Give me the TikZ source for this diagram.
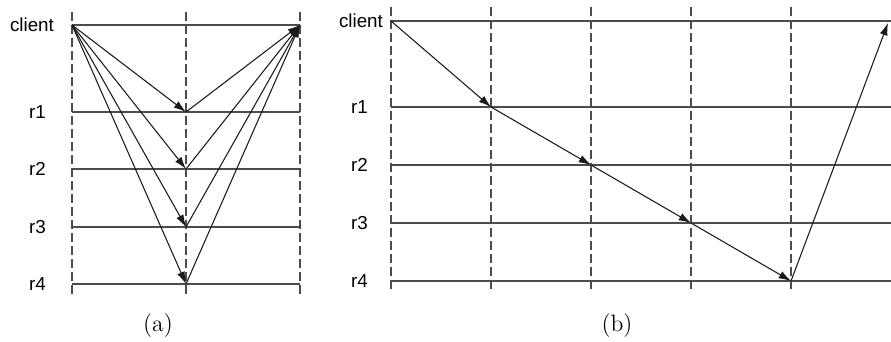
\documentclass[tikz,border=0pt]{standalone}
\usepackage{fontspec}
\newfontfamily\labelfont{Liberation Sans}
\usetikzlibrary{arrows.meta}

\begin{document}
\begin{tikzpicture}[
    x=0.02cm, y=-0.02cm,
    proc/.style={font=\labelfont\fontsize{10.7}{12}\selectfont, anchor=east, inner sep=1pt},
    sublabel/.style={font=\fontsize{13.5}{15}\selectfont},
    axis/.style={line width=0.9pt, black!70},
    tick/.style={line width=0.9pt, black!70, dash pattern=on 5pt off 2.4pt},
    msg/.style={-{Latex[length=7pt,width=4.5pt]}, line width=0.6pt, black!90}
  ]
  \useasboundingbox (0,0) rectangle (891,341);

  % (a) requests sent in parallel
  \foreach \x in {72,186,300} \draw[tick] (\x,12) -- (\x,295);
  \node[proc] (a-client) at (56,25) {client};
  \foreach \name/\y in {r1/112,r2/169,r3/227,r4/284}
    \node[proc] (a-\name) at (48,\y) {\name};
  \foreach \name/\y in {client/25,r1/112,r2/169,r3/227,r4/284}{
    \coordinate (a-\name-l) at (72,\y);
    \coordinate (a-\name-m) at (186,\y);
    \coordinate (a-\name-r) at (300,\y);
    \draw[axis] (a-\name-l) -- (a-\name-r);
  }
  \foreach \r in {r1,r2,r3,r4}{
    \draw[msg] (a-client-l) -- (a-\r-m);
    \draw[msg] (a-\r-m) -- (a-client-r);
  }
  \node[sublabel] (capa) at (158,326) {(a)};

  % (b) requests passed along the chain
  \foreach \x in {391,491,591,691,791} \draw[tick] (\x,7) -- (\x,290);
  \node[proc] (b-client) at (385,21) {client};
  \foreach \name/\y in {r1/107,r2/165,r3/223,r4/281}
    \node[proc] (b-\name) at (370,\y) {\name};
  \foreach \name/\y in {client/21,r1/107,r2/165,r3/223,r4/281}{
    \coordinate (b-\name-l) at (391,\y);
    \coordinate (b-\name-r) at (891,\y);
    \draw[axis] (b-\name-l) -- (b-\name-r);
  }
  \coordinate (hop1) at (491,107);
  \coordinate (hop2) at (591,165);
  \coordinate (hop3) at (691,223);
  \coordinate (hop4) at (791,281);
  \coordinate (back) at (888,23);
  \draw[msg] (b-client-l) -- (hop1);
  \draw[msg] (hop1) -- (hop2);
  \draw[msg] (hop2) -- (hop3);
  \draw[msg] (hop3) -- (hop4);
  \draw[msg] (hop4) -- (back);
  \node[sublabel] (capb) at (617,326) {(b)};
\end{tikzpicture}
\end{document}
